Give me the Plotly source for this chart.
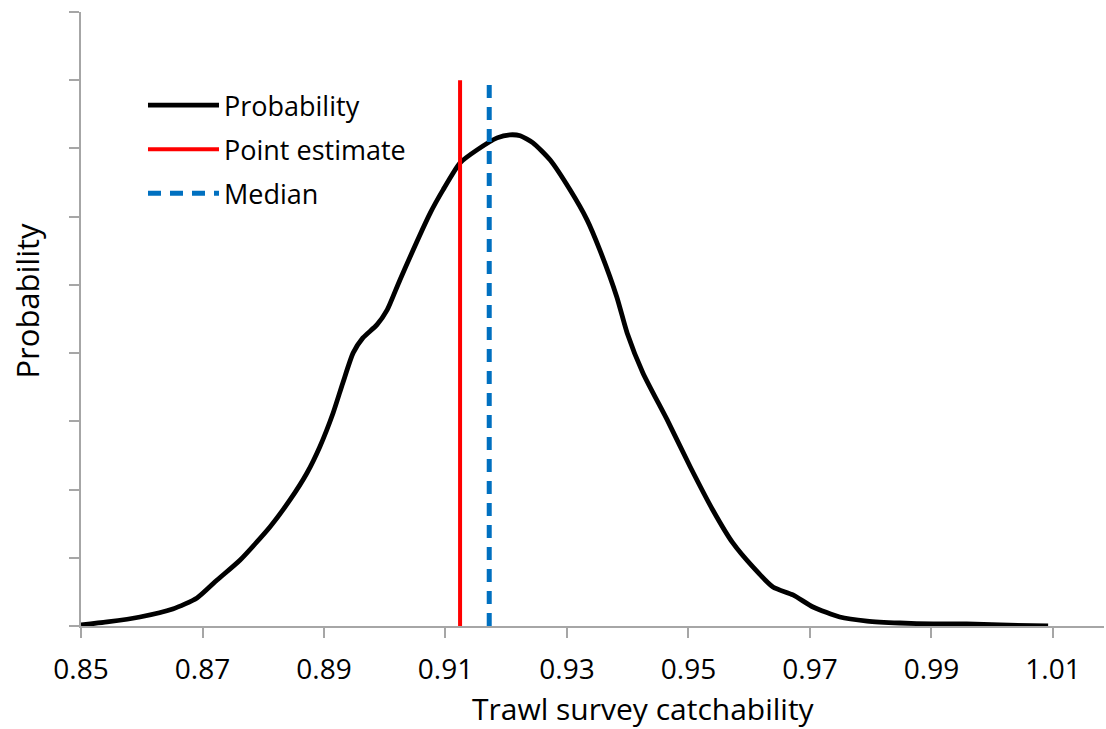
import plotly.graph_objects as go

# Posterior density of trawl survey catchability (relative units)
catchability = [
    0.8500, 0.8543, 0.8597, 0.8651, 0.8691, 0.8724, 0.8762, 0.8811, 0.8844,
    0.8872, 0.8893, 0.8915, 0.8931, 0.8948, 0.8964, 0.8987, 0.9004, 0.9025,
    0.9075, 0.9096, 0.9124, 0.9152, 0.9185, 0.9206, 0.9223, 0.9244, 0.9272,
    0.9305, 0.9333, 0.9354, 0.9382, 0.9399, 0.9425, 0.9465, 0.9503, 0.9540,
    0.9573, 0.9606, 0.9639, 0.9672, 0.9705, 0.9749, 0.9794, 0.9848, 0.9903,
    0.9958, 1.0013, 1.0092,
]
probability = [
    0.015, 0.059, 0.132, 0.249, 0.411, 0.674, 0.968, 1.452, 1.848,
    2.243, 2.625, 3.123, 3.563, 4.003, 4.223, 4.413, 4.633, 5.073,
    6.056, 6.393, 6.789, 6.979, 7.155, 7.199, 7.185, 7.082, 6.833,
    6.393, 5.953, 5.513, 4.824, 4.296, 3.710, 3.021, 2.331, 1.701,
    1.217, 0.865, 0.572, 0.455, 0.279, 0.132, 0.073, 0.044, 0.029,
    0.029, 0.015, 0.000,
]

point_estimate = 0.9124
median = 0.9172
marker_top = 8

x_ticks = [0.85, 0.87, 0.89, 0.91, 0.93, 0.95, 0.97, 0.99, 1.01]
x_tick_labels = ["0.85", "0.87", "0.89", "0.91", "0.93", "0.95", "0.97", "0.99", "1.01"]
y_ticks = [0, 1, 2, 3, 4, 5, 6, 7, 8, 9]

FONT = "Open Sans"
AXIS_GREY = "#a6a6a6"

fig = go.Figure()

fig.add_trace(go.Scatter(
    x=catchability, y=probability, mode="lines", name="Probability",
    line=dict(color="black", width=4.8, shape="spline", smoothing=0.6),
    legendgroup="a",
))
fig.add_trace(go.Scatter(
    x=[point_estimate, point_estimate], y=[0, marker_top], mode="lines",
    name="Point estimate", line=dict(color="#ff0000", width=4),
    legendgroup="b",
))
fig.add_trace(go.Scatter(
    x=[median, median], y=[0, marker_top], mode="lines", name="Median",
    line=dict(color="#0070c0", width=5, dash="13px,9px"),
    legendgroup="c",
))

fig.update_layout(
    width=1106, height=729,
    margin=dict(l=81, r=2, t=12, b=103),
    paper_bgcolor="white", plot_bgcolor="white",
    font=dict(family=FONT, color="black", size=27),
    showlegend=True,
    legend=dict(
        x=0.0606, y=0.8876, xanchor="left", yanchor="top",
        bgcolor="rgba(0,0,0,0)", font=dict(size=27, family=FONT),
        tracegroupgap=6, itemwidth=71,
    ),
    xaxis=dict(
        range=[0.85, 1.0184], tickvals=x_ticks, ticktext=x_tick_labels,
        showgrid=False, zeroline=False, showline=True,
        linecolor=AXIS_GREY, linewidth=1.5,
        ticks="outside", ticklen=10, tickwidth=1.5, tickcolor=AXIS_GREY,
        tickfont=dict(size=28, family=FONT), ticklabelstandoff=8,
    ),
    yaxis=dict(
        range=[0, 9], tickvals=y_ticks, showticklabels=False,
        showgrid=False, zeroline=False, showline=True,
        linecolor=AXIS_GREY, linewidth=1.5,
        ticks="outside", ticklen=10, tickwidth=1.5, tickcolor=AXIS_GREY,
    ),
    annotations=[
        dict(text="Trawl survey catchability", xref="paper", yref="paper",
             x=0.55, y=0, yshift=-82, xanchor="center", yanchor="middle",
             showarrow=False, font=dict(size=30, family=FONT)),
        dict(text="Probability", xref="paper", yref="paper",
             x=0, y=0.53, xshift=-54, xanchor="center", yanchor="middle",
             textangle=-90, showarrow=False, font=dict(size=31, family=FONT)),
    ],
)

fig.write_html("out.html")
